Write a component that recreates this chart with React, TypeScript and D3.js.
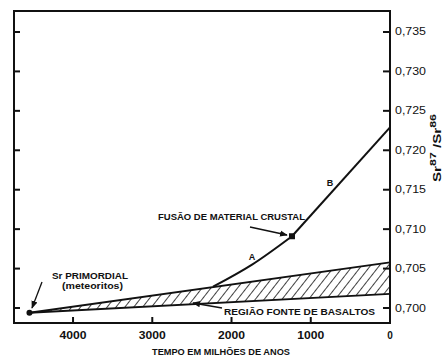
import React from "react";
import * as d3 from "d3";

const yTicks = [0.7, 0.705, 0.71, 0.715, 0.72, 0.725, 0.73, 0.735];
const yTickLabels = ["0,700", "0,705", "0,710", "0,715", "0,720", "0,725", "0,730", "0,735"];
const xTicks = [4000, 3000, 2000, 1000, 0];
const xTickLabels = ["4000", "3000", "2000", "1000", "0"];
const primordial: [number, number] = [4550, 0.6994];
const crustalMelt: [number, number] = [1237, 0.7091];
const basaltUpper: [number, number][] = [[4550, 0.6994], [0, 0.7058]];
const basaltLower: [number, number][] = [[4550, 0.6994], [0, 0.7018]];
const curveA: [number, number][] = [[2233, 0.7027], [1741, 0.7055], [1237, 0.7091]];
const curveB: [number, number][] = [[1237, 0.7091], [0, 0.7229]];

const W = 444;
const H = 356;
const L = 14, R = 390, T = 11, B = 323;

export default function App() {
  const x = d3.scaleLinear().domain([4745, 0]).range([L, R]);
  const y = d3.scaleLinear().domain([0.6981, 0.73766]).range([B, T]);

  const area = d3
    .area<[number, number]>()
    .x((d) => x(d[0]))
    .y0((d, i) => y(basaltLower[i][1]))
    .y1((d) => y(d[1]));
  const line = d3
    .line<[number, number]>()
    .x((d) => x(d[0]))
    .y((d) => y(d[1]));
  const lineCurved = d3
    .line<[number, number]>()
    .x((d) => x(d[0]))
    .y((d) => y(d[1]))
    .curve(d3.curveMonotoneX);

  const font = "'Liberation Sans', Arial, sans-serif";

  return (
    <svg
      width={W}
      height={H}
      style={{ position: "absolute", left: 0, top: 0, background: "#fff" }}
      fontFamily={font}
    >
      <defs>
        <pattern
          id="hatch"
          width={7}
          height={7}
          patternUnits="userSpaceOnUse"
          patternTransform="rotate(38)"
        >
          <line x1={0} y1={0} x2={0} y2={7} stroke="#111" strokeWidth={1.6} />
        </pattern>
        <marker
          id="arrow"
          viewBox="0 0 10 10"
          refX={9}
          refY={5}
          markerWidth={6}
          markerHeight={6}
          orient="auto"
        >
          <path d="M0,1 L10,5 L0,9 z" fill="#111" />
        </marker>
      </defs>
      <rect x={0} y={0} width={W} height={H} fill="#fff" />

      {/* hatched basalt source region */}
      <path d={area(basaltUpper) || ""} fill="url(#hatch)" stroke="none" />
      <path d={line(basaltUpper) || ""} fill="none" stroke="#111" strokeWidth={1.8} />
      <path d={line(basaltLower) || ""} fill="none" stroke="#111" strokeWidth={1.8} />

      {/* evolution curves */}
      <path d={lineCurved(curveA) || ""} fill="none" stroke="#111" strokeWidth={2} />
      <path d={line(curveB) || ""} fill="none" stroke="#111" strokeWidth={2} />

      {/* points */}
      <circle cx={x(primordial[0])} cy={y(primordial[1])} r={3} fill="#111" />
      <rect
        x={x(crustalMelt[0]) - 3}
        y={y(crustalMelt[1]) - 3}
        width={6}
        height={6}
        fill="#111"
      />

      {/* frame */}
      <rect x={L} y={T} width={R - L} height={B - T} fill="none" stroke="#111" strokeWidth={2} />

      {/* y ticks both sides */}
      {yTicks.map((v, i) => (
        <g key={"yt" + i}>
          <line x1={L} x2={L + 6} y1={y(v)} y2={y(v)} stroke="#111" strokeWidth={2} />
          <line x1={R - 7} x2={R} y1={y(v)} y2={y(v)} stroke="#111" strokeWidth={2} />
          <text
            x={395}
            y={y(v)}
            dy="0.35em"
            fontSize={10}
            textLength={31}
            lengthAdjust="spacingAndGlyphs"
            fill="#111"
          >
            {yTickLabels[i]}
          </text>
        </g>
      ))}

      {/* x ticks */}
      {xTicks.map((t, i) => (
        <g key={"xt" + i}>
          {t !== 0 && (
            <line x1={x(t)} x2={x(t)} y1={B} y2={B - 6} stroke="#111" strokeWidth={2} />
          )}
          <text
            x={x(t)}
            y={339}
            textAnchor="middle"
            fontSize={10}
            fontWeight="bold"
            textLength={t === 0 ? undefined : 27}
            lengthAdjust="spacingAndGlyphs"
            fill="#111"
          >
            {xTickLabels[i]}
          </text>
        </g>
      ))}

      {/* axis titles */}
      <text
        x={221}
        y={355}
        textAnchor="middle"
        fontSize={8.5}
        fontWeight="bold"
        textLength={138}
        lengthAdjust="spacingAndGlyphs"
        fill="#111"
      >
        TEMPO EM MILHÕES DE ANOS
      </text>
      <text
        transform={`translate(441,148) rotate(-90)`}
        textAnchor="middle"
        fontSize={11}
        fontWeight="bold"
        fill="#111"
        textLength={68}
        lengthAdjust="spacingAndGlyphs"
      >
        Sr
        <tspan dy={-5} fontSize={9}>87</tspan>
        <tspan dy={5}> /Sr</tspan>
        <tspan dy={-5} fontSize={9}>86</tspan>
      </text>

      {/* annotations */}
      <text x={52} y={279} fontSize={8.5} fontWeight="bold" textLength={76} lengthAdjust="spacingAndGlyphs" fill="#111">
        Sr PRIMORDIAL
      </text>
      <text x={62} y={289} fontSize={8.5} fontWeight="bold" textLength={61} lengthAdjust="spacingAndGlyphs" fill="#111">
        (meteoritos)
      </text>
      <line x1={42} y1={282} x2={32} y2={308} stroke="#111" strokeWidth={1.3} markerEnd="url(#arrow)" />

      <text x={158} y={220} fontSize={8.5} fontWeight="bold" textLength={147} lengthAdjust="spacingAndGlyphs" fill="#111">
        FUSÃO DE MATERIAL CRUSTAL
      </text>
      <line x1={250} y1={227} x2={287} y2={235} stroke="#111" strokeWidth={1.3} markerEnd="url(#arrow)" />

      <text x={224} y={315} fontSize={8.5} fontWeight="bold" textLength={151} lengthAdjust="spacingAndGlyphs" fill="#111">
        REGIÃO FONTE DE BASALTOS
      </text>
      <line x1={222} y1={308} x2={193} y2={303} stroke="#111" strokeWidth={1.3} markerEnd="url(#arrow)" />

      <text x={252} y={260} textAnchor="middle" fontSize={9} fontWeight="bold" fill="#111">A</text>
      <text x={330} y={186} textAnchor="middle" fontSize={9} fontWeight="bold" fill="#111">B</text>
    </svg>
  );
}
